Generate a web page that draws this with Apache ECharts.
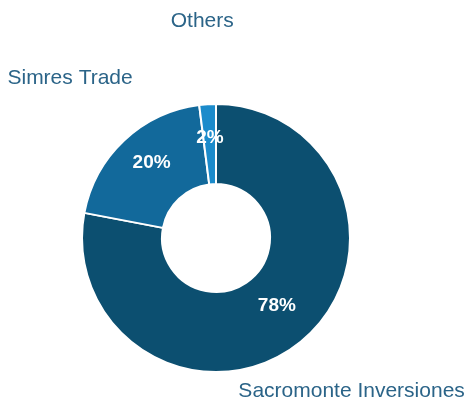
<!DOCTYPE html>
<html><head><meta charset="utf-8">
<script src="https://cdn.jsdelivr.net/npm/echarts@6/dist/echarts.min.js"></script>
<style>html,body{margin:0;padding:0;background:#fff}#c{width:468px;height:401px}</style>
</head><body><div id="c"></div>
<script>
const names = ['Sacromonte Inversiones', 'Simres Trade', 'Others'];
const values = [78, 20, 2];
const colors = ['#0c4f70', '#12699b', '#1b8bcb'];

// small layout nudges for labels (style, not data)
const pctNudge = [[-1, -7], [2, -5], [0, -3]];
const nameNudge = [[-4, -16], [4, 0], [0, 2]];

const chart = echarts.init(document.getElementById('c'), null, {renderer: 'canvas'});
const data = names.map((n, i) => ({name: n, value: values[i], itemStyle: {color: colors[i]}}));
chart.setOption({
  animation: false,
  series: [
    {
      type: 'pie',
      center: [216, 238],
      radius: [54, 134],
      startAngle: 90,
      clockwise: true,
      silent: true,
      itemStyle: {borderColor: '#fff', borderWidth: 2},
      label: {
        show: true, position: 'inside',
        formatter: p => p.value + '%',
        color: '#fff', fontFamily: 'Liberation Sans', fontWeight: 'bold', fontSize: 19
      },
      labelLine: {show: false},
      labelLayout: p => ({dx: pctNudge[p.dataIndex][0], dy: pctNudge[p.dataIndex][1]}),
      data: data
    },
    {
      type: 'pie',
      center: [216, 238],
      radius: [196, 236],
      startAngle: 90,
      clockwise: true,
      silent: true,
      itemStyle: {color: 'rgba(0,0,0,0)', borderWidth: 0},
      label: {
        show: true, position: 'inside',
        formatter: '{b}',
        color: '#2b6488', fontFamily: 'Liberation Sans', fontSize: 21
      },
      labelLine: {show: false},
      labelLayout: p => ({dx: nameNudge[p.dataIndex][0], dy: nameNudge[p.dataIndex][1]}),
      data: names.map((n, i) => ({name: n, value: values[i]}))
    }
  ]
});
</script></body></html>
